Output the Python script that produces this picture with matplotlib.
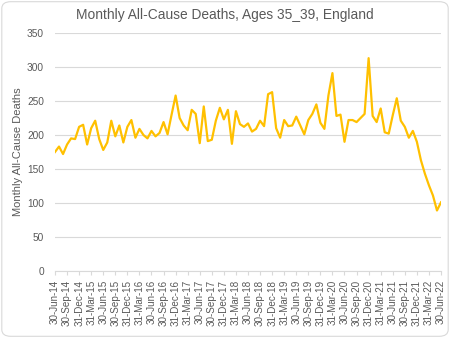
import matplotlib
matplotlib.use("Agg")
import matplotlib.pyplot as plt
from matplotlib.patches import FancyBboxPatch
import pandas as pd

plt.rcParams['font.family'] = ['Liberation Sans', 'DejaVu Sans']

title = "Monthly All-Cause Deaths, Ages 35_39, England"
ylabel = "Monthly All-Cause Deaths"

deaths = [175, 183, 172, 186, 195, 194, 212, 215, 186, 210, 221, 194, 178, 189, 221, 198,
          214, 189, 212, 222, 196, 209, 200, 195, 206, 198, 203, 219, 201, 230, 258, 225,
          214, 207, 237, 231, 188, 242, 191, 193, 221, 240, 223, 237, 187, 235, 216, 212,
          217, 205, 209, 221, 213, 260, 263, 210, 196, 222, 213, 214, 227, 214, 201, 222,
          231, 245, 218, 209, 258, 291, 228, 230, 190, 222, 222, 219, 225, 231, 313, 228,
          219, 239, 204, 202, 229, 254, 221, 212, 196, 206, 190, 163, 143, 126, 111, 89, 101]

dates = pd.date_range("2014-06-30", periods=len(deaths), freq="ME")
labels = [d.strftime("%d-%b-%y") for d in dates]

fig = plt.figure(figsize=(4.5, 3.38), dpi=100)
ax = fig.add_axes([0.1222, 0.1982, 0.8578, 0.7042])

x = list(range(len(deaths)))
ax.plot(x, deaths, color="#FFC000", lw=1.6, solid_joinstyle="round")

ax.set_xlim(0, len(deaths) - 1)
ax.set_ylim(0, 350)
ax.set_yticks(range(0, 351, 50))
ax.grid(axis="y", color="#d9d9d9", lw=0.8)
ax.set_axisbelow(True)

tick_pos = x[::3]
ax.set_xticks(tick_pos)
ax.set_xticklabels(labels[::3], rotation=90, fontsize=7.1, color="#595959")
ax.tick_params(axis="x", length=3, color="#d9d9d9", pad=3.5)
ax.tick_params(axis="y", length=0, labelsize=7.3, labelcolor="#595959", pad=8)

for s in ["top", "right", "left"]:
    ax.spines[s].set_visible(False)
ax.spines["bottom"].set_color("#d9d9d9")

fig.text(0.5, 1 - 15 / 338, title, fontsize=9.9, color="#595959", ha="center", va="center")
fig.text(18 / 450, ax.get_position().y0 + ax.get_position().height / 2, ylabel,
         fontsize=8, color="#595959", rotation=90, ha="center", va="center")

border = FancyBboxPatch((0.004, 0.005), 0.992, 0.99, boxstyle="round,pad=0,rounding_size=0.02",
                        transform=fig.transFigure, fill=False, edgecolor="#d9d9d9", lw=0.8)
fig.patches.append(border)

fig.savefig("out.png", dpi=100)
